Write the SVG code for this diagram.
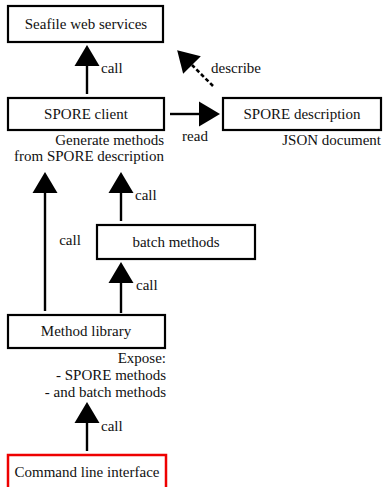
<svg xmlns="http://www.w3.org/2000/svg" width="384" height="487" viewBox="0 0 384 487">
<style>
text{font-family:"Liberation Serif","DejaVu Serif",serif;font-size:15px;fill:#111}
.c{text-anchor:middle}
.r{text-anchor:end}
.box{fill:#fff;stroke:#000;stroke-width:2.2}
.red{fill:#fff;stroke:#e00;stroke-width:2.5}
.ln{stroke:#000;stroke-width:2.4;fill:none}
.dash{stroke:#000;stroke-width:2.6;fill:none;stroke-dasharray:4 2.5}
</style>
<defs>
<marker id="ah" markerUnits="userSpaceOnUse" markerWidth="24" markerHeight="26" refX="0" refY="12.5" orient="auto" overflow="visible">
<path d="M0,0 L21,12.5 L0,25 z" fill="#000"/>
</marker>
</defs>
<rect width="384" height="487" fill="#fff"/>
<g id="connectors">
<line class="ln" x1="87" y1="94" x2="87" y2="66" marker-end="url(#ah)"/>
<line class="ln" x1="170" y1="114" x2="199" y2="114" marker-end="url(#ah)"/>
<line class="dash" x1="213" y1="86" x2="192" y2="65" marker-end="url(#ah)"/>
<line class="ln" x1="45" y1="311" x2="45" y2="193" marker-end="url(#ah)"/>
<line class="ln" x1="121" y1="221" x2="121" y2="193" marker-end="url(#ah)"/>
<line class="ln" x1="121" y1="313" x2="121" y2="283" marker-end="url(#ah)"/>
<line class="ln" x1="87" y1="451" x2="87" y2="423" marker-end="url(#ah)"/>
<text x="101" y="73">call</text>
<text x="211" y="73">describe</text>
<text x="195" y="141" class="c">read</text>
<text x="135" y="200">call</text>
<text x="70" y="245" class="c">call</text>
<text x="136" y="290">call</text>
<text x="101" y="431">call</text>
</g>
<g id="seafile">
<rect class="box" x="8" y="6" width="155" height="36"/>
<text x="86" y="29" class="c">Seafile web services</text>
</g>
<g id="spore-client">
<rect class="box" x="8" y="98" width="156" height="32"/>
<text x="86" y="119" class="c">SPORE client</text>
<text x="164" y="145" class="r">Generate methods</text>
<text x="164" y="161" class="r">from SPORE description</text>
</g>
<g id="spore-description">
<rect class="box" x="223" y="98" width="158" height="32"/>
<text x="302" y="119" class="c">SPORE description</text>
<text x="381" y="145" class="r">JSON document</text>
</g>
<g id="batch-methods">
<rect class="box" x="97" y="225" width="158" height="34"/>
<text x="176" y="247" class="c">batch methods</text>
</g>
<g id="method-library">
<rect class="box" x="8" y="315" width="157" height="33"/>
<text x="86" y="336" class="c">Method library</text>
<text x="166" y="363" class="r">Expose:</text>
<text x="166" y="380" class="r">- SPORE methods</text>
<text x="166" y="397" class="r">- and batch methods</text>
</g>
<g id="cli">
<rect class="red" x="8" y="455" width="158" height="36"/>
<text x="87" y="477" class="c">Command line interface</text>
</g>
</svg>
